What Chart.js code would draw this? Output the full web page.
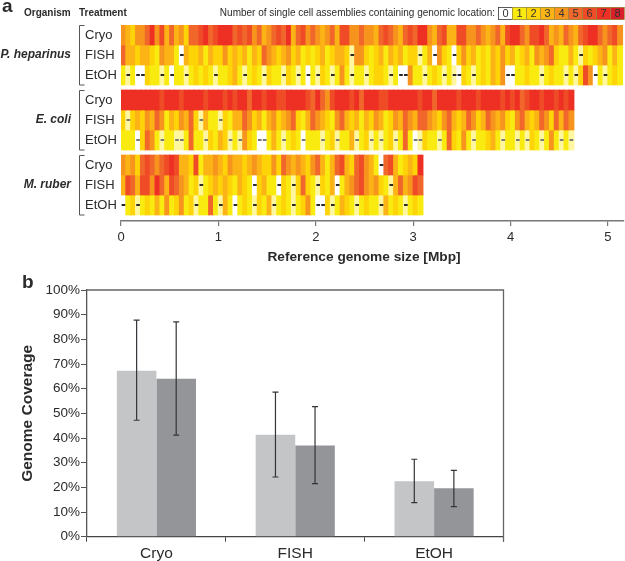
<!DOCTYPE html>
<html>
<head>
<meta charset="utf-8">
<script src="https://cdn.jsdelivr.net/npm/chart.js@4"></script>
<style>
  html, body { margin: 0; padding: 0; background: #fff; }
  canvas { position: absolute; left: 0; }
</style>
</head>
<body>
<canvas id="heat" width="625" height="270" style="top:0"></canvas>
<canvas id="bars" width="625" height="291" style="top:270px"></canvas>
<script>
// number of assemblies per 0.05 Mbp bin
// 0.5 = bin only partly covered (pale, with a dash)
var heparinusCryo = [
  4,3,2,4,4,5,7,4,6,3, 5,3,4,2,5,5,6,7,5,6, 7,7,7,5,6,5,6,4,5,3, 4,5,6,5,7,3,5,6,4,5,
  4,3,4,5,3,6,6,4,4,5, 4,4,3,5,6,5,4,3,5,6, 5,7,7,4,3,5,6,3,3,6, 6,4,4,5,4,3,4,5,3,6,
  7,7,5,4,6,6,7,5,3,4, 3,5,4,3,5,6,7,7,5,4, 5,6,4];
var heparinusFish = [
  5,3,3,2,3,3,2,1,4,3, 3,1,0,3,2,2,3,1,3,2, 2,4,2,3,2,3,1,3,2,5, 4,3,2,3,4,2,3,1,2,1,
  2,3,1,2,3,3,2,0.5,4,4, 2,1,2,3,1,3,2,3,1,2, 2,0.5,1,3,0,4,2,1,0,2, 4,2,3,1,2,1,3,2,4,2,
  3,1,2,3,1,4,3,4,5,2, 1,1,3,1,0.5,2,1,2,3,4, 1,3,1];
var heparinusEtoh = [
  1,0.5,1,0,0,2,1,1,0.5,1, 0,1,1,0.5,1,2,1,2,1,0.5, 1,1,2,3,1,0.5,1,2,1,0.5, 2,1,1,0.5,2,1,0.5,1,0,1,
  0.5,2,1,0.5,1,4,1,0.5,1,1, 0.5,1,2,2,1,0.5,1,0,0,4, 1,1,0.5,1,2,1,0.5,1,0.5,0, 2,1,0.5,1,2,1,3,2,4,0,
  0,1,1,2,1,1,0.5,1,2,1, 1,0.5,1,0.5,2,6,4,0,1,0.5, 1,2,1];
var coliCryo = [
  7,7,7,7,7,7,7,7,6,7, 7,7,6,7,7,7,7,6,7,7, 7,6,7,6,7,7,5,7,7,6, 7,7,6,6,7,7,7,7,6,5,
  7,5,4,6,7,7,7,6,7,5, 7,7,7,6,6,7,7,7,7,7, 7,6,7,7,5,7,7,7,7,6, 7,7,7,6,7,7,7,7,6,7,
  6,7,5,6,7,7,6,7,7,6, 7,6,7];
var coliFish = [
  2,0.5,2,3,2,4,3,5,4,1, 3,2,4,3,5,2,0.5,3,1,1, 0.5,2,1,3,3,5,4,2,3,1, 3,4,2,3,4,5,2,1,3,5,
  4,3,2,1,4,5,3,2,3,1, 3,2,4,3,1,2,4,3,5,4, 3,5,5,4,3,2,4,5,3,2, 3,5,4,2,3,5,4,3,4,2,
  1,4,5,3,2,3,5,4,2,5, 3,5,4];
var coliEtoh = [
  1,1,1,0,2,5,4,1,0.5,1, 1,0.5,0.5,1,5,1,1,0.5,2,1, 3,2,0.5,1,0.5,4,2,1,0,0, 1,3,1,0.5,1,2,1,0,1,1,
  1,0.5,1,2,0.5,1,1,3,0.5,1, 2,0.5,1,0.5,1,2,0.5,1,5,1, 0,0.5,2,1,1,0.5,1,5,2,1, 4,1,0.5,1,1,2,3,1,0.5,1,
  1,0.5,1,0.5,2,1,0.5,1,4,1, 0.5,1,0.5];
var ruberCryo = [
  4,3,4,2,5,6,5,4,5,6, 7,6,3,3,2,6,1,3,3,4, 3,2,4,3,3,2,3,4,3,2, 2,4,2,5,4,3,4,3,2,4,
  5,3,1,3,5,6,3,2,5,6, 4,3,1,0,5,6,3,1,2,3, 2,7];
var ruberFish = [
  3,6,5,3,6,6,4,7,5,3, 6,5,4,3,1,2,0.5,1,2,3, 2,3,2,1,3,2,1,0,2,3, 1,1,0,2,1,0.5,2,5,2,1,
  0.5,2,1,3,0,1,3,4,5,6, 4,3,4,2,1,0.5,3,5,3,4, 6,5];
var ruberEtoh = [
  0,1,2,0.5,1,2,1,3,1,4, 1,2,4,1,2,0.5,1,1,5,1, 0.5,3,1,0,1,2,1,0.5,2,1, 3,0.5,1,2,1,0.5,1,2,4,1,
  0,0,2,0.5,1,3,2,1,0.5,1, 2,1,1,0.5,3,1,2,1,0.5,1, 2,1];

var binSize = 0.05;
var tracks = [heparinusCryo, heparinusFish, heparinusEtoh, coliCryo, coliFish, coliEtoh, ruberCryo, ruberFish, ruberEtoh];
var trackRows = [0, 1, 2, 3.25, 4.25, 5.25, 6.5, 7.5, 8.5];
var treatments = ['Cryo', 'FISH', 'EtOH'];
var organisms = ['P. heparinus', 'E. coli', 'M. ruber'];
var levelColors = ['#ffffff', '#f9ea10', '#fed307', '#fcb315', '#f7941d', '#f1662a', '#ef4b26', '#ee3024', '#d9202a'];
var paleColor = '#fff7a0';

// part b
var categories = ['Cryo', 'FISH', 'EtOH'];
var coverageLight = [67.3, 41.3, 22.5];
var coverageDark = [64, 37, 19.6];
var lightLow = [47.2, 24.2, 13.8];
var lightHigh = [87.8, 58.6, 31.4];
var darkLow = [41.2, 21.5, 12.2];
var darkHigh = [87.1, 52.7, 26.9];

var FONT = '"Liberation Sans", Arial, sans-serif';
var TEXT = '#2b2b2b';

function text(ctx, str, x, y, font, align, color) {
  ctx.font = font + ' ' + FONT;
  ctx.textAlign = align || 'left';
  ctx.textBaseline = 'middle';
  ctx.fillStyle = color || TEXT;
  ctx.fillText(str, x, y);
}

var heatDatasets = [];
tracks.forEach(function(levels, t) {
  var row = trackRows[t];
  heatDatasets.push({
    data: levels.map(function(v, i) { return { x: (i + 0.5) * binSize, y: [row, row + 1] }; }),
    backgroundColor: levels.map(function(v) { return v === 0.5 ? paleColor : levelColors[v]; }),
    barThickness: 5.3,
    order: 2
  });
  // zero coverage is marked with a dash along the middle of the track
  var gaps = [];
  levels.forEach(function(v, i) {
    if (v < 1) gaps.push({ x: (i + 0.5) * binSize, y: [row + 0.47, row + 0.53] });
  });
  heatDatasets.push({
    data: gaps,
    backgroundColor: (t >= 3 && t < 6) ? '#707070' : '#1a1a1a',
    barThickness: 3,
    order: 1
  });
});

var heatLabels = {
  id: 'heatLabels',
  afterDraw: function(chart) {
    var ctx = chart.ctx, y = chart.scales.y;
    ctx.save();
    text(ctx, 'a', 2, 7, 'bold 19px');
    text(ctx, 'Organism', 24, 13, 'bold 10px');
    text(ctx, 'Treatment', 79, 13, 'bold 10px');
    text(ctx, 'Number of single cell assemblies containing genomic location:', 495, 13.5, '10px', 'right');

    // legend boxes
    levelColors.forEach(function(c, i) {
      var bx = 498 + i * 14;
      ctx.fillStyle = c;
      ctx.fillRect(bx, 7, 14, 13);
      ctx.strokeStyle = i === 0 ? '#333' : '#9a8a40';
      ctx.lineWidth = 0.8;
      ctx.strokeRect(bx + 0.5, 7.5, 14, 12);
      text(ctx, String(i), bx + 7.5, 14, '11px', 'center', '#333');
    });

    trackRows.forEach(function(row, t) {
      text(ctx, treatments[t % 3], 85, y.getPixelForValue(row + 0.5), '13px');
    });

    // organism names and brackets
    organisms.forEach(function(name, o) {
      var top = y.getPixelForValue(trackRows[o * 3]);
      var bottom = y.getPixelForValue(trackRows[o * 3 + 2] + 1);
      text(ctx, name, 71, (top + bottom) / 2, 'italic bold 12px', 'right');
      ctx.strokeStyle = '#555';
      ctx.lineWidth = 1;
      ctx.beginPath();
      ctx.moveTo(84.5, top + 0.5);
      ctx.lineTo(79.5, top + 0.5);
      ctx.lineTo(79.5, bottom);
      ctx.lineTo(84.5, bottom);
      ctx.stroke();
    });

    text(ctx, 'Reference genome size [Mbp]', 364, 257, 'bold 13.7px', 'center');
    ctx.restore();
  }
};

new Chart(document.getElementById('heat'), {
  type: 'bar',
  data: { datasets: heatDatasets },
  plugins: [heatLabels],
  options: {
    responsive: false,
    animation: false,
    layout: { padding: { left: 121, top: 25, right: 1, bottom: 0 } },
    plugins: { legend: { display: false }, tooltip: { enabled: false } },
    datasets: { bar: { grouped: false } },
    scales: {
      x: {
        type: 'linear',
        offset: false,
        min: 0,
        max: 5.165,
        afterFit: function(scale) { scale.height = 49; },
        border: { color: '#777', width: 1.5 },
        grid: { offset: false, drawOnChartArea: false, color: '#777', tickLength: 5, lineWidth: 1.2 },
        ticks: {
          stepSize: 1,
          includeBounds: false,
          autoSkip: false,
          maxRotation: 0,
          padding: 4,
          color: TEXT,
          font: { family: FONT, size: 13 }
        }
      },
      y: { display: false, reverse: true, min: 0, max: 9.8 }
    }
  }
});

var errorBars = {
  id: 'errorBars',
  afterDatasetsDraw: function(chart) {
    var ctx = chart.ctx, y = chart.scales.y, area = chart.chartArea;
    ctx.save();
    [[lightLow, lightHigh], [darkLow, darkHigh]].forEach(function(range, d) {
      chart.getDatasetMeta(d).data.forEach(function(bar, i) {
        var low = y.getPixelForValue(range[0][i]), high = y.getPixelForValue(range[1][i]);
        ctx.strokeStyle = '#333438';
        ctx.lineWidth = 1.2;
        ctx.beginPath();
        ctx.moveTo(bar.x, low);
        ctx.lineTo(bar.x, high);
        ctx.moveTo(bar.x - 3, low);
        ctx.lineTo(bar.x + 3, low);
        ctx.moveTo(bar.x - 3, high);
        ctx.lineTo(bar.x + 3, high);
        ctx.stroke();
      });
    });
    // frame on the open sides
    ctx.strokeStyle = '#666';
    ctx.lineWidth = 1.3;
    ctx.beginPath();
    ctx.moveTo(area.left, area.top);
    ctx.lineTo(area.right, area.top);
    ctx.lineTo(area.right, area.bottom + 5);
    ctx.stroke();
    text(ctx, 'b', 22, 13, 'bold 19px');
    ctx.restore();
  }
};

new Chart(document.getElementById('bars'), {
  type: 'bar',
  data: {
    labels: categories,
    datasets: [
      { data: coverageLight, backgroundColor: '#c3c5c7' },
      { data: coverageDark, backgroundColor: '#939598' }
    ]
  },
  plugins: [errorBars],
  options: {
    responsive: false,
    animation: false,
    layout: { padding: { left: 18, top: 20, right: 121.5, bottom: 0 } },
    plugins: { legend: { display: false }, tooltip: { enabled: false } },
    datasets: { bar: { categoryPercentage: 0.57, barPercentage: 1 } },
    scales: {
      x: {
        afterFit: function(scale) { scale.height = 24.3; },
        border: { color: '#444', width: 1.3 },
        grid: { drawOnChartArea: false, color: '#444', tickLength: 5 },
        ticks: { padding: 3, color: TEXT, font: { family: FONT, size: 15.5 } }
      },
      y: {
        min: 0,
        max: 100,
        afterFit: function(scale) { scale.width = 69; },
        title: {
          display: true,
          text: 'Genome Coverage',
          color: TEXT,
          padding: 0,
          font: { family: FONT, size: 15.5, weight: 'bold' }
        },
        border: { color: '#555', width: 1.3 },
        grid: { drawOnChartArea: false, color: '#555', tickLength: 6 },
        ticks: {
          stepSize: 10,
          padding: 1,
          color: TEXT,
          font: { family: FONT, size: 13.5 },
          callback: function(v) { return v + '%'; }
        }
      }
    }
  }
});
</script>
</body>
</html>
